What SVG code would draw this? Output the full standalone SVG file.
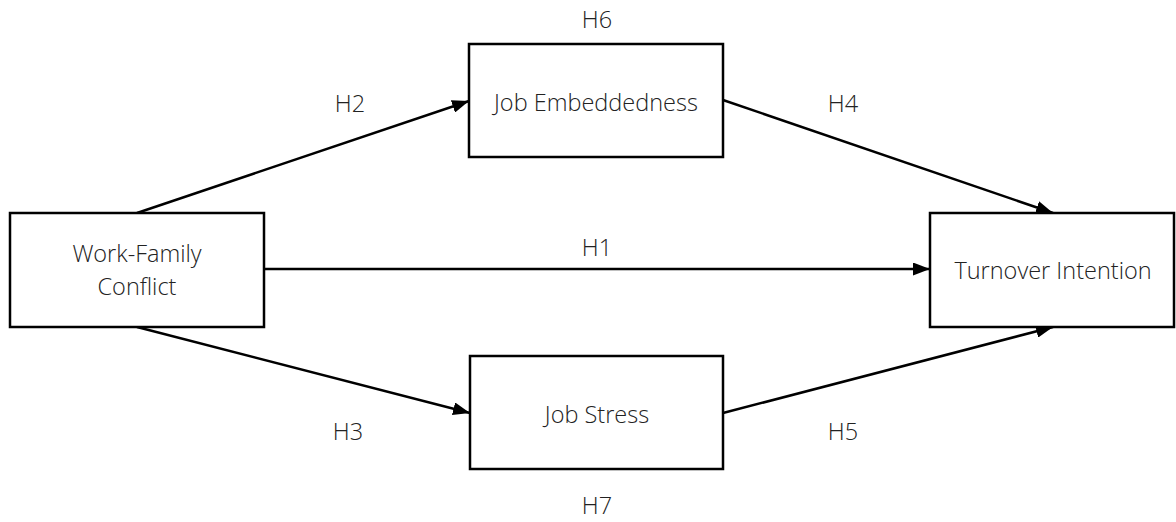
<svg xmlns="http://www.w3.org/2000/svg" width="1176" height="522" viewBox="0 0 1176 522">
<style>
.box{fill:#fff;stroke:#000;stroke-width:2.5}
.t{font-family:"Open Sans","Noto Sans","Liberation Sans",sans-serif;font-weight:300;font-size:23.5px;fill:#222;text-anchor:middle}
.c{stroke:#000;stroke-width:2.5;fill:none;marker-end:url(#ah)}
</style>
<defs>
<marker id="ah" markerWidth="17" markerHeight="13" refX="17" refY="6.5" orient="auto" markerUnits="userSpaceOnUse">
<path d="M0,0 L17,6.5 L0,13 Z" fill="#000"/>
</marker>
</defs>
<rect width="1176" height="522" fill="#fff"/>
<g id="connectors">
<line class="c" x1="137" y1="213" x2="469" y2="101"/>
<line class="c" x1="723" y1="100" x2="1053" y2="213"/>
<line class="c" x1="264" y1="269" x2="930" y2="269"/>
<line class="c" x1="137" y1="327" x2="470" y2="413"/>
<line class="c" x1="723" y1="413" x2="1053" y2="327"/>
</g>
<g id="labels">
<text class="t" x="597" y="28">H6</text>
<text class="t" x="350" y="112">H2</text>
<text class="t" x="843" y="112">H4</text>
<text class="t" x="597" y="256">H1</text>
<text class="t" x="348" y="440">H3</text>
<text class="t" x="843" y="440">H5</text>
<text class="t" x="597" y="514">H7</text>
</g>
<g id="wfc">
<rect class="box" x="10" y="213" width="254" height="114"/>
<text class="t" x="137" y="262">Work-Family</text>
<text class="t" x="137" y="295">Conflict</text>
</g>
<g id="je">
<rect class="box" x="469" y="44" width="254" height="113"/>
<text class="t" x="596" y="111">Job Embeddedness</text>
</g>
<g id="js">
<rect class="box" x="470" y="356" width="253" height="113"/>
<text class="t" x="597" y="423">Job Stress</text>
</g>
<g id="ti">
<rect class="box" x="930" y="213" width="244" height="114"/>
<text class="t" x="1053" y="279">Turnover Intention</text>
</g>
</svg>
